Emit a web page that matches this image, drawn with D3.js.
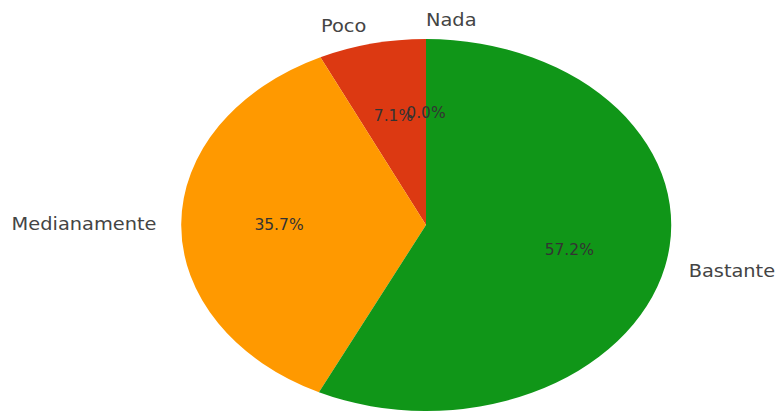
<!DOCTYPE html>
<html>
<head>
<meta charset="utf-8">
<script src="https://cdn.jsdelivr.net/npm/d3@7"></script>
<style>
  body { margin: 0; background: #fff; }
  text { font-family: "DejaVu Sans", sans-serif; }
</style>
</head>
<body>
<script>
// pie data, in the order the slices run (counter-clockwise from the top)
var categories = ["Nada", "Poco", "Medianamente", "Bastante"];
var values = [0.0, 7.1, 35.7, 57.2];
var colors = ["#3366cc", "#dc3912", "#ff9900", "#109618"];

var width = 776;
var height = 411;
var cx = 426, cy = 225;
var rx = 245, ry = 186;

var svg = d3.select("body")
  .append("svg")
    .attr("width", width)
    .attr("height", height);

var pie = d3.pie()
  .sort(null)
  .startAngle(0)
  .endAngle(-2 * Math.PI)
  .value(function(d) { return d; });

var arcs = pie(values);

// unit arc, stretched into an ellipse with a scale transform
var arc = d3.arc().innerRadius(0).outerRadius(1);

svg.append("g")
    .attr("transform", "translate(" + cx + "," + cy + ") scale(" + rx + "," + ry + ")")
  .selectAll("path")
  .data(arcs)
  .enter()
  .append("path")
    .attr("d", arc)
    .attr("fill", function(d, i) { return colors[i]; });

var mid = function(d) { return (d.startAngle + d.endAngle) / 2; };

// percent labels at 0.6 of the radius
svg.selectAll(".pct")
  .data(arcs)
  .enter()
  .append("text")
    .classed("pct", true)
    .attr("x", function(d) { return cx + rx * 0.6 * Math.sin(mid(d)); })
    .attr("y", function(d) { return cy - ry * 0.6 * Math.cos(mid(d)); })
    .attr("text-anchor", "middle")
    .attr("dominant-baseline", "central")
    .style("font-size", "15.5px")
    .style("fill", "#333")
    .text(function(d) { return d.value.toFixed(1) + "%"; });

// category labels at 1.1 of the radius (a bit wider, like the picture)
svg.selectAll(".lbl")
  .data(arcs)
  .enter()
  .append("text")
    .classed("lbl", true)
    .attr("transform", function(d) {
      var x = cx + rx * 1.1 * Math.sin(mid(d));
      var y = cy - ry * 1.1 * Math.cos(mid(d));
      return "translate(" + x + "," + y + ") scale(1.14,1)";
    })
    .attr("text-anchor", function(d) { return Math.sin(mid(d)) >= -1e-9 ? "start" : "end"; })
    .attr("dominant-baseline", "central")
    .style("font-size", "17px")
    .style("fill", "#444")
    .text(function(d, i) { return categories[i]; });
</script>
</body>
</html>
